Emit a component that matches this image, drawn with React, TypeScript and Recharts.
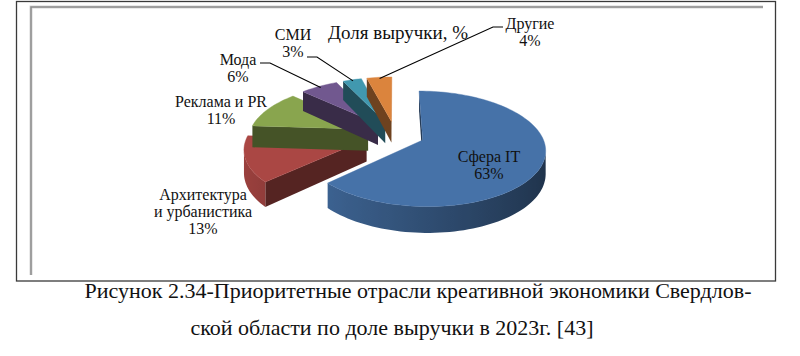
import React from "react";
import { PieChart, Pie, Cell } from "recharts";

// revenue share, %
const categories = ["Сфера IT", "Архитектура и урбанистика", "Реклама и PR", "Мода", "СМИ", "Другие"];
const shares = [63, 13, 11, 6, 3, 4];
const colors = ["#4672a8", "#aa4744", "#89a54e", "#71588f", "#4198af", "#db843d"];

const data = categories.map((name, i) => ({ name, value: shares[i] }));

// label layout (center x, first baseline, line breaks, optional leader start)
const LABELS = [
  { x: 489, y: 162, lines: ["Сфера IT"], leader: null },
  { x: 203, y: 200, lines: ["Архитектура", "и урбанистика"], leader: null },
  { x: 221, y: 107, lines: ["Реклама и PR"], leader: null },
  { x: 238, y: 65, lines: ["Мода"], leader: [[260, 63], [270, 63]] },
  { x: 293, y: 40, lines: ["СМИ"], leader: [[307, 57], [317, 57]] },
  { x: 530, y: 29, lines: ["Другие"], leader: [[503, 27], [493, 27]] },
];

const FONT = '"Liberation Serif"';

// fake 3D: tilt ratio, perspective, explode, thickness
const K = 0.46;
const P = 0.15;
const E = 0.25;
const DEPTH = 22;
const RAD = Math.PI / 180;

function project(cx: number, cy: number, r: number, X: number, Z: number, h = 0) {
  const s = 1 / (1 + (P * Z) / r);
  return [cx + X * s, cy - K * Z * s + h * s];
}

function shade(hex: string, f: number) {
  const n = parseInt(hex.slice(1), 16);
  const c = [(n >> 16) & 255, (n >> 8) & 255, n & 255].map((v) => Math.round(v * f));
  return `rgb(${c[0]},${c[1]},${c[2]})`;
}

const pts = (a: number[][]) => a.map((p) => `${p[0].toFixed(2)},${p[1].toFixed(2)}`).join(" ");

// offset of slice centre (explode) in disk coords
function sliceOffset(r: number, midAngle: number) {
  const tm = (90 - midAngle) * RAD;
  return { ox: E * r * Math.sin(tm), oz: E * r * Math.cos(tm) };
}

const wallShade = (th: number) => 0.68 - 0.24 * Math.sin(th);

function Slice3D(props: any) {
  const { cx, cy, outerRadius: r, startAngle, endAngle, fill } = props;
  const midAngle = props.midAngle ?? (startAngle + endAngle) / 2;
  const key = Math.round(midAngle * 10);
  const ta = 90 - startAngle;
  const tb = 90 - endAngle;
  const { ox, oz } = sliceOffset(r, midAngle);

  const ring: { X: number; Z: number; th: number | null }[] = [{ X: ox, Z: oz, th: null }];
  const n = Math.max(2, Math.ceil(Math.abs(tb - ta) / 2));
  for (let i = 0; i <= n; i++) {
    const t = (ta + ((tb - ta) * i) / n) * RAD;
    ring.push({ X: ox + r * Math.sin(t), Z: oz + r * Math.cos(t), th: t });
  }
  const top = ring.map((p) => project(cx, cy, r, p.X, p.Z));
  const bot = ring.map((p) => project(cx, cy, r, p.X, p.Z, DEPTH));

  const flat: React.ReactNode[] = [];
  const arcIdx: number[] = [];
  for (let i = 0; i < ring.length; i++) {
    const j = (i + 1) % ring.length;
    if (top[j][0] >= top[i][0] - 0.01) continue; // faces away
    const curved = ring[i].th != null && ring[j].th != null;
    if (curved) {
      if (!arcIdx.includes(i)) arcIdx.push(i);
      arcIdx.push(j);
    } else {
      const c = shade(fill, 0.5);
      flat.push(<polygon key={i} points={pts([top[i], top[j], bot[j], bot[i]])} fill={c} />);
    }
  }

  let curvedWall = null;
  let grad = null;
  if (arcIdx.length > 1) {
    const xs = arcIdx.map((i) => top[i][0]);
    const x0 = Math.min(...xs);
    const x1 = Math.max(...xs);
    const id = `wall-${key}`;
    const stops = [...arcIdx].sort((a, b) => top[a][0] - top[b][0]);
    grad = (
      <linearGradient id={id} gradientUnits="userSpaceOnUse" x1={x0} y1={0} x2={x1} y2={0}>
        {stops.map((i) => (
          <stop key={i} offset={x1 > x0 ? (top[i][0] - x0) / (x1 - x0) : 0} stopColor={shade(fill, wallShade(ring[i].th as number))} />
        ))}
      </linearGradient>
    );
    const poly = [...arcIdx.map((i) => top[i]), ...[...arcIdx].reverse().map((i) => bot[i])];
    curvedWall = <polygon points={pts(poly)} fill={`url(#${id})`} />;
  }

  return (
    <g>
      <defs>{grad}</defs>
      {flat}
      {curvedWall}
      <polygon points={pts(top)} fill={fill} stroke={fill} strokeWidth={0.4} />
    </g>
  );
}

function renderLabel(props: any) {
  const { cx, cy, outerRadius: r, midAngle, index, percent } = props;
  const lay = LABELS[index];
  const lines = [...lay.lines, `${Math.round(percent * 100)}%`];
  let leader = null;
  if (lay.leader) {
    const { ox, oz } = sliceOffset(r, midAngle);
    const tm = (90 - midAngle) * RAD;
    const end = project(cx, cy, r, ox + r * 0.97 * Math.sin(tm), oz + r * 0.97 * Math.cos(tm));
    leader = <polyline points={pts([...lay.leader, end])} fill="none" stroke="#000" strokeWidth={1.1} />;
  }
  return (
    <g key={`lbl-${index}`}>
      {leader}
      <text x={lay.x} textAnchor="middle" style={{ fontFamily: FONT }} fontSize={16} fill="#111">
        {lines.map((s, i) => (
          <tspan key={i} x={lay.x} y={lay.y + i * 17}>
            {s}
          </tspan>
        ))}
      </text>
    </g>
  );
}

const abs = (x: number, y: number, extra: React.CSSProperties = {}): React.CSSProperties => ({
  position: "absolute",
  left: x,
  top: y,
  fontFamily: FONT,
  color: "#111",
  whiteSpace: "nowrap",
  lineHeight: 1,
  ...extra,
});

export default function App() {
  return (
    <div style={{ position: "absolute", left: 0, top: 0, width: 800, height: 356, background: "#fff", fontFamily: FONT }}>
      <svg width={800} height={356} style={{ position: "absolute", left: 0, top: 0 }}>
        <rect x={16.5} y={1.5} width={759} height={279.5} fill="none" stroke="#3a3a3a" strokeWidth={1.3} />
        <polyline points="31,275 31,7 763,7" fill="none" stroke="#d6d6d6" strokeWidth={3} />
        <polyline points="31,275 31,7 763,7" fill="none" stroke="#8c8c8c" strokeWidth={1.5} />
      </svg>
      <div style={abs(0, 23, { width: 796, textAlign: "center", fontSize: 19 })}>Доля выручки, %</div>
      <div style={abs(0, 279.5, { width: 836, textAlign: "center", fontSize: 22 })}>
        Рисунок 2.34-Приоритетные отрасли креативной экономики Свердлов-
      </div>
      <div style={abs(0, 316.5, { width: 784, textAlign: "center", fontSize: 22 })}>
        ской области по доле выручки в 2023г. [43]
      </div>
      <div style={{ position: "absolute", left: 0, top: 0 }}>
        <PieChart width={800} height={290} margin={{ top: 0, right: 0, bottom: 0, left: 0 }}>
          <Pie
            data={data}
            dataKey="value"
            nameKey="name"
            cx={395}
            cy={134.5}
            outerRadius={119}
            startAngle={90}
            endAngle={-270}
            stroke="none"
            shape={Slice3D}
            label={renderLabel}
            labelLine={false}
            isAnimationActive={false}
          >
            {data.map((d, i) => (
              <Cell key={d.name} fill={colors[i]} />
            ))}
          </Pie>
        </PieChart>
      </div>
    </div>
  );
}
